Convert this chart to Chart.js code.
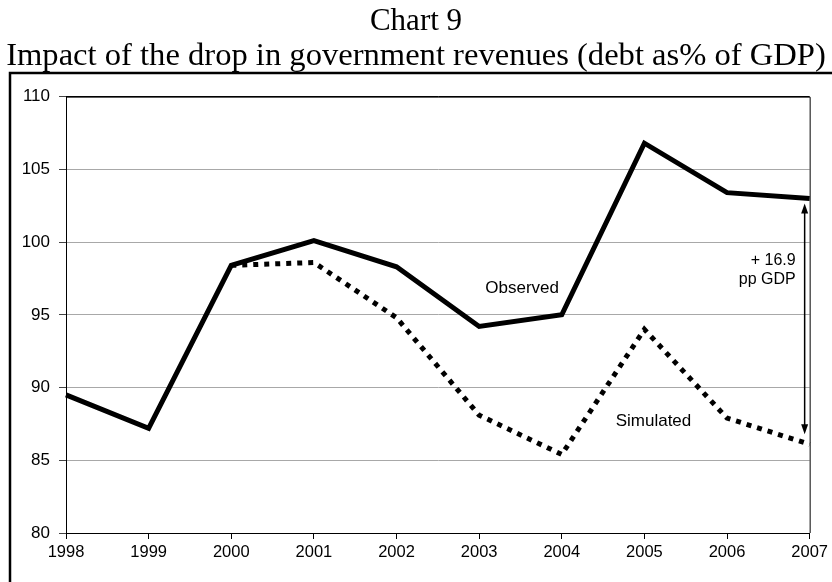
<!DOCTYPE html>
<html>
<head>
<meta charset="utf-8">
<script src="https://cdn.jsdelivr.net/npm/chart.js@4/dist/chart.umd.min.js"></script>
<style>
  html, body { margin: 0; padding: 0; background: #fff; }
  #wrap { width: 832px; height: 582px; position: relative; overflow: hidden; }
</style>
</head>
<body>
<div id="wrap"><canvas id="c" width="832" height="582"></canvas></div>
<script>
const years = ['1998','1999','2000','2001','2002','2003','2004','2005','2006','2007'];
const observed = [89.5, 87.2, 98.4, 100.1, 98.3, 94.2, 95.0, 106.8, 103.4, 103.0];
const simulated = [null, null, 98.4, 98.6, 94.8, 88.1, 85.4, 94.0, 87.9, 86.1];
const yTicks = [80, 85, 90, 95, 100, 105, 110];
const titleText = 'Chart 9';
const subtitleText = 'Impact of the drop in government revenues (debt as% of GDP)';
const gapLabel = ['+ 16.9', 'pp GDP'];

const SANS = '"Liberation Sans", Arial, sans-serif';
const SERIF = '"Liberation Serif", "Times New Roman", serif';

const decor = {
  id: 'decor',
  beforeDraw(chart) {
    const ctx = chart.ctx;
    ctx.save();
    ctx.fillStyle = '#fff';
    ctx.fillRect(0, 0, chart.width, chart.height);
    ctx.strokeStyle = '#000';
    ctx.lineWidth = 2.5;
    ctx.strokeRect(10, 73, chart.width + 20, chart.height + 20);
    ctx.restore();
  },
  afterDatasetsDraw(chart) {
    const ctx = chart.ctx;
    const x = chart.scales.x, y = chart.scales.y;
    const a = chart.chartArea;
    ctx.save();
    ctx.strokeStyle = '#000';
    ctx.lineWidth = 1;
    ctx.beginPath();
    ctx.moveTo(a.left, a.top + 0.5);
    ctx.lineTo(a.right + 0.5, a.top + 0.5);
    ctx.lineTo(a.right + 0.5, a.bottom);
    ctx.stroke();
    ctx.fillStyle = '#000';
    ctx.font = '17px ' + SANS;
    ctx.textAlign = 'center';
    ctx.textBaseline = 'middle';
    ctx.fillText('Observed', x.getPixelForValue(5.52), y.getPixelForValue(96.85));
    ctx.fillText('Simulated', x.getPixelForValue(7.11), y.getPixelForValue(87.65));
    ctx.font = '16px ' + SANS;
    ctx.textAlign = 'right';
    const lx = x.getPixelForValue(9) - 14;
    ctx.fillText(gapLabel[0], lx, y.getPixelForValue(98.7));
    ctx.fillText(gapLabel[1], lx, y.getPixelForValue(97.4));
    const last = years.length - 1;
    const ax = x.getPixelForValue(last) - 5;
    const y1 = y.getPixelForValue(observed[last]) + 5;
    const y2 = y.getPixelForValue(simulated[last]) - 10;
    ctx.lineWidth = 1.5;
    ctx.beginPath();
    ctx.moveTo(ax, y1 + 8);
    ctx.lineTo(ax, y2 - 8);
    ctx.stroke();
    ctx.beginPath();
    ctx.moveTo(ax, y1); ctx.lineTo(ax - 3.5, y1 + 10); ctx.lineTo(ax + 3.5, y1 + 10); ctx.closePath();
    ctx.fill();
    ctx.beginPath();
    ctx.moveTo(ax, y2); ctx.lineTo(ax - 3.5, y2 - 10); ctx.lineTo(ax + 3.5, y2 - 10); ctx.closePath();
    ctx.fill();
    ctx.restore();
  }
};

new Chart(document.getElementById('c'), {
  type: 'line',
  data: {
    labels: years,
    datasets: [
      { label: 'Simulated', data: simulated, borderColor: '#000', borderWidth: 5,
        borderDash: [5, 6], borderCapStyle: 'butt', pointRadius: 0, tension: 0, spanGaps: false },
      { label: 'Observed', data: observed, borderColor: '#000', borderWidth: 5,
        pointRadius: 0, tension: 0, borderJoinStyle: 'miter' }
    ]
  },
  options: {
    responsive: false,
    animation: false,
    events: [],
    layout: { padding: 0 },
    plugins: {
      legend: { display: false },
      tooltip: { enabled: false },
      title: { display: true, text: titleText, color: '#000',
        font: { family: SERIF, size: 31, weight: 'normal', lineHeight: 1.1 },
        padding: { top: 5, bottom: 0 } },
      subtitle: { display: true, text: subtitleText, color: '#000',
        font: { family: SERIF, size: 32.6, weight: 'normal', lineHeight: 1.06 },
        padding: { top: 0, bottom: 23 } }
    },
    scales: {
      x: {
        type: 'category',
        offset: false,
        grid: { display: true, drawOnChartArea: false, drawTicks: true, tickLength: 6, tickColor: '#000' },
        border: { display: true, color: '#000', width: 1 },
        ticks: { color: '#000', font: { family: SANS, size: 16.5 }, padding: 4, maxRotation: 0, autoSkip: false },
        afterFit(s) { s.height = 49; }
      },
      y: {
        min: 80, max: 110,
        afterBuildTicks(s) { s.ticks = yTicks.map(v => ({ value: v })); },
        grid: { color: ctx => ctx.tick && ctx.tick.value === 110 ? '#000' : '#a8a8a8',
          drawTicks: true, tickLength: 7, tickColor: '#444', lineWidth: 1 },
        border: { display: true, color: '#000', width: 1 },
        ticks: { color: '#000', font: { family: SANS, size: 17 }, padding: 9 },
        afterFit(s) { s.width = 66; }
      }
    }
  },
  plugins: [decor]
});
</script>
</body>
</html>
